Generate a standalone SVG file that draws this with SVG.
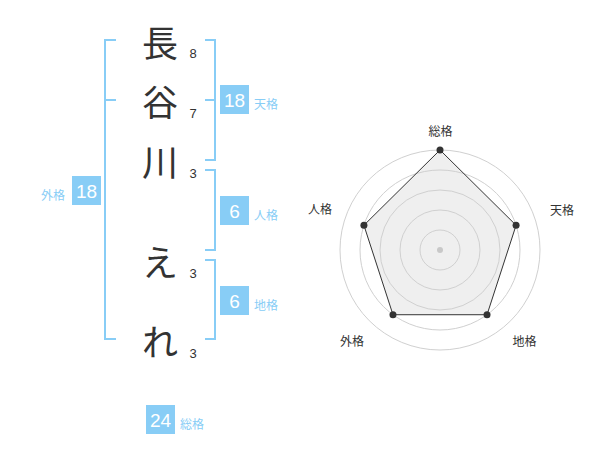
<svg xmlns="http://www.w3.org/2000/svg" width="600" height="470" viewBox="0 0 600 470">
<style>
.ch{font-family:"Noto Sans CJK JP","Noto Sans CJK SC",sans-serif;font-size:36px;fill:#333;text-anchor:middle;dominant-baseline:central}
.st{font-family:"Liberation Sans",Arial,sans-serif;font-size:13px;fill:#333;text-anchor:middle;dominant-baseline:central}
.br{fill:none;stroke:#88cdf6;stroke-width:2}
.box{fill:#88cdf6}
.bn{font-family:"Liberation Sans",Arial,sans-serif;font-size:19px;fill:#fff;text-anchor:middle;dominant-baseline:central}
.bl{font-family:"Noto Sans CJK JP",sans-serif;font-size:12px;fill:#88cdf6;dominant-baseline:central}
.rl{font-family:"Noto Sans CJK JP",sans-serif;font-size:12px;fill:#333;text-anchor:middle;dominant-baseline:central}
.ring{fill:none;stroke:#d0d0d0;stroke-width:1}
.dot{fill:#333}
</style>
<rect width="600" height="470" fill="#fff"/>
<g id="name">
<g id="c1"><text class="ch" x="160" y="41">長</text><text class="st" x="193" y="53">8</text></g>
<g id="c2"><text class="ch" x="160" y="100">谷</text><text class="st" x="193" y="113">7</text></g>
<g id="c3"><text class="ch" x="160" y="160">川</text><text class="st" x="193" y="173">3</text></g>
<g id="c4"><text class="ch" x="160" y="260">え</text><text class="st" x="193" y="273">3</text></g>
<g id="c5"><text class="ch" x="160" y="340">れ</text><text class="st" x="193" y="353">3</text></g>
</g>
<g id="connectors">
<path class="br" d="M116 40 H105 V339 H116 M105 100 H116"/>
<path class="br" d="M205 40 H215 V160 H205 M205 100 H215"/>
<path class="br" d="M205 170 H215 V250 H205"/>
<path class="br" d="M205 260 H215 V339 H205"/>
</g>
<g id="tenkaku"><rect class="box" x="220" y="85" width="29" height="29"/><text class="bn" x="234.5" y="100">18</text><text class="bl" x="254" y="103">天格</text></g>
<g id="jinkaku"><rect class="box" x="220" y="196" width="29" height="29"/><text class="bn" x="234.5" y="211">6</text><text class="bl" x="254" y="214">人格</text></g>
<g id="chikaku"><rect class="box" x="220" y="286" width="29" height="29"/><text class="bn" x="234.5" y="301">6</text><text class="bl" x="254" y="304">地格</text></g>
<g id="gaikaku"><rect class="box" x="72" y="176" width="29" height="29"/><text class="bn" x="86.5" y="191">18</text><text class="bl" x="41" y="194">外格</text></g>
<g id="soukaku"><rect class="box" x="146" y="405" width="29" height="29"/><text class="bn" x="160.5" y="420">24</text><text class="bl" x="180" y="423">総格</text></g>
<g id="radar">
<polygon points="440,150 516.08,225.28 487.02,314.72 392.98,314.72 363.92,225.28" fill="#efefef"/>
<circle class="ring" cx="440" cy="250" r="20"/>
<circle class="ring" cx="440" cy="250" r="40"/>
<circle class="ring" cx="440" cy="250" r="60"/>
<circle class="ring" cx="440" cy="250" r="80"/>
<circle class="ring" cx="440" cy="250" r="100"/>
<polygon points="440,150 516.08,225.28 487.02,314.72 392.98,314.72 363.92,225.28" fill="none" stroke="#333" stroke-width="1"/>
<circle cx="440" cy="250" r="3" fill="#c8c8c8"/>
<circle class="dot" cx="440" cy="150" r="3.5"/>
<circle class="dot" cx="516.08" cy="225.28" r="3.5"/>
<circle class="dot" cx="487.02" cy="314.72" r="3.5"/>
<circle class="dot" cx="392.98" cy="314.72" r="3.5"/>
<circle class="dot" cx="363.92" cy="225.28" r="3.5"/>
<text class="rl" x="440.5" y="130.5">総格</text>
<text class="rl" x="562" y="209">天格</text>
<text class="rl" x="524.5" y="340">地格</text>
<text class="rl" x="352" y="340">外格</text>
<text class="rl" x="320" y="208">人格</text>
</g>
</svg>
